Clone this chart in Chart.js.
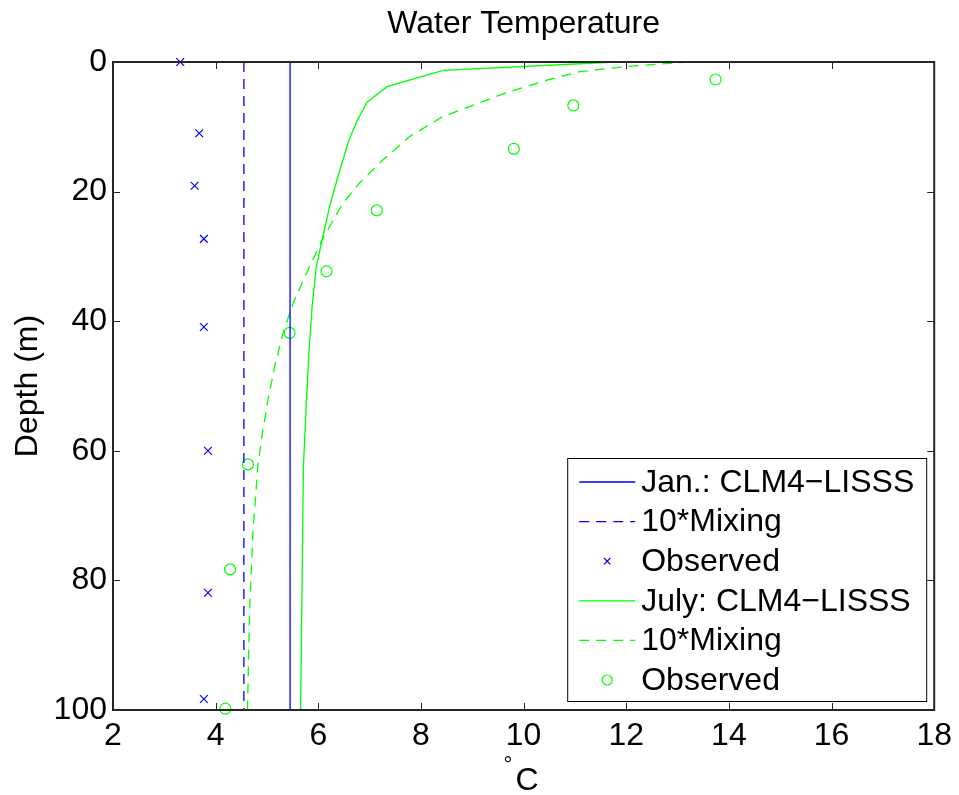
<!DOCTYPE html>
<html>
<head>
<meta charset="utf-8">
<title>Water Temperature</title>
<script src="https://cdn.jsdelivr.net/npm/chart.js@4.4.1/dist/chart.umd.min.js"></script>
<style>
  html, body { margin: 0; padding: 0; background: #fff; }
  #wrap { width: 959px; height: 795px; }
</style>
</head>
<body>
<div id="wrap"><canvas id="chart"></canvas></div>
<script>
// January profiles: depth (m) and temperature (°C)
const janDepth = [0, 100];
const janModel = [5.45, 5.45];
const janMixing = [4.55, 4.55];
const janObsDepth = [0, 11, 19.1, 27.3, 40.9, 60, 81.9, 98.3];
const janObs = [3.31, 3.68, 3.59, 3.77, 3.77, 3.85, 3.85, 3.77];

// July profiles
const julModelDepth = [0, 1.3, 3.8, 6.2, 9, 12, 17.2, 22.3, 26.9, 31.6, 37.7, 44.4, 52.1, 62.4, 100];
const julModel = [11.8, 8.43, 7.34, 6.95, 6.76, 6.6, 6.4, 6.22, 6.09, 5.96, 5.88, 5.82, 5.77, 5.71, 5.655];
const julMixDepth = [0, 0.7, 1.5, 2.7, 4.7, 8.4, 11.5, 15.1, 18.7, 21.8, 27.2, 32.6, 37.2, 41.9, 47, 52.1, 57.3, 62.4, 67, 72, 85, 100];
const julMixing = [13.23, 12.0, 11.09, 10.5, 9.68, 8.43, 7.78, 7.26, 6.8, 6.48, 6.09, 5.77, 5.51, 5.31, 5.15, 5.02, 4.91, 4.82, 4.78, 4.73, 4.66, 4.62];
const julObsDepth = [2.7, 6.7, 13.4, 22.9, 32.3, 41.8, 62.1, 78.3, 99.8];
const julObs = [13.74, 10.97, 9.81, 7.14, 6.16, 5.44, 4.63, 4.28, 4.19];

const legendLabels = ['Jan.: CLM4\u2212LISSS', '10*Mixing', 'Observed',
                      'July: CLM4\u2212LISSS', '10*Mixing', 'Observed'];

const FONT = '"Liberation Sans", Arial, Helvetica, sans-serif';
const BLUE = '#0000ff';
const GREEN = '#00ff00';
const DASH = [10, 7];

function pts(xs, ys) {
  return xs.map((x, i) => ({ x: x, y: ys[i] }));
}

function lineSet(label, xs, ys, color, dash) {
  return {
    label: label,
    data: pts(xs, ys),
    showLine: true,
    borderColor: color,
    borderWidth: 1.3,
    borderDash: dash,
    pointRadius: 0,
    pointHoverRadius: 0,
    fill: false,
    tension: 0,
    clip: false
  };
}

function markSet(label, xs, ys, color, style) {
  return {
    label: label,
    data: pts(xs, ys),
    showLine: false,
    pointStyle: style,
    pointRadius: 5.5,
    pointBorderWidth: 1.2,
    borderColor: color,
    backgroundColor: 'rgba(0,0,0,0)',
    clip: false
  };
}

const datasets = [
  lineSet(legendLabels[0], janModel, janDepth, BLUE, []),
  lineSet(legendLabels[1], janMixing, janDepth, BLUE, DASH),
  markSet(legendLabels[2], janObs, janObsDepth, BLUE, 'crossRot'),
  lineSet(legendLabels[3], julModel, julModelDepth, GREEN, []),
  lineSet(legendLabels[4], julMixing, julMixDepth, GREEN, DASH),
  markSet(legendLabels[5], julObs, julObsDepth, GREEN, 'circle')
];

// box around the axes with inward tick marks on all four sides
const frameTicks = {
  id: 'frameTicks',
  afterDatasetsDraw(chart) {
    const { ctx, chartArea: a, scales } = chart;
    const len = 7;
    ctx.save();
    ctx.strokeStyle = '#262626';
    ctx.lineWidth = 1;
    ctx.beginPath();
    scales.x.ticks.forEach(t => {
      const px = Math.round(scales.x.getPixelForValue(t.value)) + 0.5;
      ctx.moveTo(px, a.bottom); ctx.lineTo(px, a.bottom - len);
      ctx.moveTo(px, a.top); ctx.lineTo(px, a.top + len);
    });
    scales.y.ticks.forEach(t => {
      const py = Math.round(scales.y.getPixelForValue(t.value)) + 0.5;
      ctx.moveTo(a.left, py); ctx.lineTo(a.left + len, py);
      ctx.moveTo(a.right, py); ctx.lineTo(a.right - len, py);
    });
    ctx.stroke();
    ctx.lineWidth = 2;
    ctx.strokeRect(a.left, a.top, a.right - a.left, a.bottom - a.top);
    ctx.restore();
  }
};

// legend box inside the lower right corner, plus the x-axis unit label
const boxLegend = {
  id: 'boxLegend',
  afterDraw(chart) {
    const { ctx, chartArea: a } = chart;
    const bx = a.right - 367, by = a.bottom - 252, bw = 359, bh = 243;
    const rowH = 39.6;
    ctx.save();
    ctx.fillStyle = '#fff';
    ctx.fillRect(bx, by, bw, bh);
    ctx.strokeStyle = '#000';
    ctx.lineWidth = 1;
    ctx.strokeRect(bx + 0.5, by + 0.5, bw, bh);

    ctx.font = '32px ' + FONT;
    ctx.textBaseline = 'middle';
    ctx.textAlign = 'left';
    chart.data.datasets.forEach((ds, i) => {
      const cy = by + 24 + i * rowH;
      const x0 = bx + 12, x1 = bx + 68;
      if (ds.showLine) {
        ctx.strokeStyle = ds.borderColor;
        ctx.lineWidth = ds.borderWidth;
        ctx.setLineDash(ds.borderDash);
        ctx.beginPath();
        ctx.moveTo(x0, cy);
        ctx.lineTo(x1, cy);
        ctx.stroke();
        ctx.setLineDash([]);
      } else {
        ctx.fillStyle = 'rgba(0,0,0,0)';
        ctx.strokeStyle = ds.borderColor;
        ctx.lineWidth = ds.pointBorderWidth;
        Chart.helpers.drawPoint(ctx, {
          pointStyle: ds.pointStyle,
          radius: ds.pointStyle === 'circle' ? 5 : 4.5,
          borderWidth: ds.pointBorderWidth
        }, (x0 + x1) / 2, cy);
      }
      ctx.fillStyle = '#000';
      ctx.fillText(ds.label, bx + 74, cy + 1);
    });

    // °C under the x axis
    const cx = (a.left + a.right) / 2;
    ctx.textBaseline = 'alphabetic';
    ctx.font = '22px ' + FONT;
    ctx.fillText('\u00b0', cx - 20, 772);
    ctx.font = '32px ' + FONT;
    ctx.fillText('C', cx - 8, 790);
    ctx.restore();
  }
};

new Chart(document.getElementById('chart'), {
  type: 'scatter',
  data: { datasets: datasets },
  options: {
    responsive: true,
    maintainAspectRatio: false,
    animation: false,
    events: [],
    layout: { padding: { left: 0, right: 24, top: 0, bottom: 0 } },
    plugins: {
      legend: { display: false },
      tooltip: { enabled: false },
      title: {
        display: true,
        fullSize: false,
        text: 'Water Temperature',
        color: '#000',
        font: { family: FONT, size: 32, weight: 'normal' },
        padding: { top: 5, bottom: 18.6 }
      }
    },
    scales: {
      x: {
        type: 'linear',
        position: 'bottom',
        min: 2,
        max: 18,
        ticks: {
          stepSize: 2,
          color: '#000',
          padding: 7,
          maxRotation: 0,
          font: { family: FONT, size: 32 }
        },
        grid: { display: false, drawTicks: false },
        border: { display: false },
        afterFit(scale) { scale.height = 85; }
      },
      y: {
        type: 'linear',
        reverse: true,
        min: 0,
        max: 100,
        ticks: {
          stepSize: 20,
          color: '#000',
          padding: 6,
          font: { family: FONT, size: 32 }
        },
        title: {
          display: true,
          text: 'Depth (m)',
          color: '#000',
          font: { family: FONT, size: 32 },
          padding: { top: 9, bottom: 0 }
        },
        grid: { display: false, drawTicks: false },
        border: { display: false },
        afterFit(scale) { scale.width = 113; }
      }
    }
  },
  plugins: [frameTicks, boxLegend]
});
</script>
</body>
</html>
